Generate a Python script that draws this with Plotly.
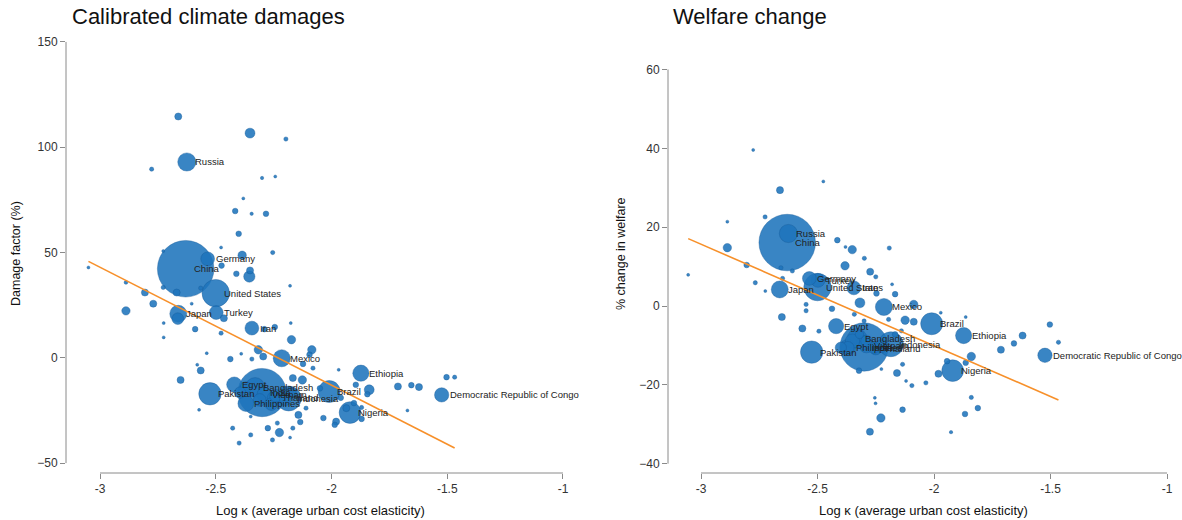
import numpy as np
import plotly.graph_objects as go

# ---- labelled countries (shared log-kappa, population in millions) ----
countries = ["China", "India", "United States", "Indonesia", "Pakistan", "Brazil",
             "Nigeria", "Bangladesh", "Russia", "Mexico", "Japan", "Ethiopia",
             "Philippines", "Egypt", "Vietnam", "Democratic Republic of Congo",
             "Turkey", "Iran", "Germany", "Thailand"]
log_kappa = [-2.63, -2.30, -2.50, -2.185, -2.525, -2.01,
             -1.92, -2.33, -2.625, -2.215, -2.662, -1.873,
             -2.37, -2.42, -2.29, -1.524,
             -2.498, -2.344, -2.535, -2.25]
damage = [42.3, -16.5, 30.7, -19.3, -17.1, -16.0,
          -26.0, -14.0, 93.0, -0.2, 20.9, -7.3,
          -21.7, -12.7, -17.5, -17.6,
          21.5, 14.1, 47.0, -19.0]
welfare = [16.1, -10.4, 4.8, -9.7, -11.7, -4.5,
           -16.4, -8.2, 18.4, -0.25, 4.2, -7.5,
           -10.5, -5.1, -10.0, -12.5,
           6.5, 4.6, 7.0, -10.8]
population = [1400, 1020, 330, 274, 220, 212,
              206, 165, 145, 128, 126, 115,
              110, 102, 97, 90,
              84, 84, 83, 70]

# ---- remaining countries, damages panel ----
other_kappa_dmg = [-2.662, -2.352, -2.197, -2.777, -2.30, -2.243, -2.381, -2.416, -2.345, -2.283,
                   -2.401, -2.477, -2.254, -2.727, -2.386, -2.475, -2.411, -2.355, -2.352, -2.179,
                   -3.05, -2.888, -2.806, -2.727, -2.669, -2.77, -2.604, -2.565, -2.888, -2.664,
                   -2.465, -2.589, -2.477, -2.725, -2.725, -2.29, -2.245, -2.176, -2.173, -2.316,
                   -2.295, -2.085, -2.095, -2.437, -2.39, -2.344, -2.539, -2.123, -2.08, -2.565,
                   -2.58, -2.652, -1.969, -1.895, -1.837, -1.845, -1.713, -1.655, -1.622, -1.503,
                   -1.468, -1.903, -1.87, -1.936, -1.87, -1.672, -1.98, -1.986, -2.035, -2.11,
                   -2.143, -2.135, -2.167, -2.225, -2.275, -2.234, -2.255, -2.179, -2.349, -2.399,
                   -2.427, -2.349, -2.572, -2.167, -2.126, -2.37, -2.24, -2.176, -2.31, -2.26,
                   -2.20, -2.395, -2.05, -1.96]
other_dmg = [114.6, 106.7, 103.9, 89.6, 85.4, 86.1, 75.7, 69.7, 68.4, 68.4,
             58.9, 52.4, 50.0, 50.7, 48.7, 43.8, 39.9, 38.6, 41.5, 34.2,
             42.9, 35.8, 31.0, 33.4, 31.0, 25.7, 25.7, 33.1, 22.3, 18.6,
             18.8, 13.6, 11.7, 16.5, 9.7, 13.6, 14.6, 16.5, 8.6, 3.8,
             0.6, 3.8, 1.5, -0.6, 1.9, -0.6, 2.2, -2.9, -4.9, -6.0,
             -3.3, -10.5, -5.7, -12.8, -15.2, -17.3, -13.6, -13.0, -13.9, -9.2,
             -9.2, -21.5, -23.6, -23.9, -29.0, -25.0, -30.3, -31.8, -28.6, -23.9,
             -27.1, -30.5, -33.4, -35.5, -33.4, -31.0, -39.0, -37.9, -36.6, -40.5,
             -33.4, -27.9, -24.7, -9.6, -10.5, -14.0, -18.0, -16.7, -20.0, -22.0,
             -20.0, -16.5, -14.5, -19.0]
other_pop_dmg = [22, 43, 8, 8, 5, 2.2, 2.2, 14, 5, 14,
                 14, 3.5, 8, 3.5, 31, 14, 14, 56, 22, 3.5,
                 3.5, 6, 22, 8, 22, 22, 3.5, 8, 31, 60,
                 22, 14, 8, 2.2, 3.5, 14, 14, 3.5, 31, 31,
                 22, 31, 14, 14, 3.5, 8, 3.5, 14, 8, 22,
                 3.5, 22, 3.5, 14, 43, 14, 22, 14, 22, 14,
                 8, 14, 8, 22, 14, 3.5, 22, 14, 14, 8,
                 22, 14, 8, 31, 14, 8, 8, 3.5, 8, 8,
                 8, 3.5, 3.5, 22, 31, 56, 70, 56, 70, 70,
                 56, 56, 14, 14]

# ---- remaining countries, welfare panel ----
other_kappa_wel = [-2.776, -2.661, -2.475, -2.725, -2.887, -2.887, -2.415, -2.351, -2.38, -2.299,
                   -2.192, -3.055, -2.804, -2.767, -2.724, -2.657, -2.65, -2.608, -2.653, -2.549,
                   -2.549, -2.565, -2.494, -2.438, -2.382, -2.274, -2.247, -2.25, -2.167, -2.18,
                   -2.318, -2.342, -2.30, -2.087, -2.124, -2.087, -2.14, -2.167, -2.195, -1.971,
                   -1.864, -1.713, -1.657, -1.62, -1.503, -1.466, -1.84, -1.864, -1.944, -1.981,
                   -2.035, -2.095, -2.12, -2.159, -2.135, -2.322, -2.226, -2.254, -2.251, -2.228,
                   -2.135, -2.275, -1.84, -1.812, -1.867, -1.927, -2.35, -2.302, -2.37, -2.227,
                   -2.258, -2.29, -2.32, -2.40]
other_wel = [39.6, 29.4, 31.6, 22.6, 21.4, 14.8, 16.7, 14.3, 15.0, 12.1,
             14.7, 7.9, 10.4, 5.9, 3.8, 9.7, 7.0, 8.9, -2.8, 0.4,
             -1.2, -5.7, -6.4, -0.7, 10.2, 8.7, 3.2, 7.4, 3.0, 5.5,
             0.8, -2.1, -3.8, 0.4, -3.6, -4.0, -6.3, -7.2, -3.4, -1.7,
             -2.8, -11.1, -9.5, -7.5, -4.7, -9.2, -12.8, -14.4, -14.0, -17.2,
             -19.5, -20.2, -19.0, -17.0, -14.8, -16.4, -16.0, -23.3, -24.7, -28.4,
             -26.3, -31.9, -23.2, -25.9, -27.4, -32.0, -8.9, -9.3, -10.6, -10.2,
             -10.6, -8.9, -7.2, -10.6]
other_pop_wel = [3.5, 22, 3.5, 8, 3.5, 31, 14, 31, 3.5, 8,
                 8, 2, 14, 8, 3.5, 8, 8, 8, 22, 8,
                 8, 22, 8, 14, 31, 22, 14, 8, 14, 3.5,
                 43, 8, 8, 31, 31, 22, 8, 14, 8, 3.5,
                 3.5, 22, 14, 22, 14, 8, 31, 14, 14, 22,
                 8, 8, 3.5, 22, 8, 14, 3.5, 3.5, 3.5, 31,
                 14, 22, 8, 14, 14, 5, 90, 90, 70, 70,
                 56, 56, 31, 56]

# ---- fitted lines (intercept, slope) ----
fit_damage = (-125.0, -56.0)
fit_welfare = (-61.6, -25.76)

x_ticks = [-3, -2.5, -2, -1.5, -1]
x_tick_text = ["-3", "-2.5", "-2", "-1.5", "-1"]
y_ticks_dmg = [-50, 0, 50, 100, 150]
y_ticks_wel = [-40, -20, 0, 20, 40, 60]

FONT = "Liberation Sans, Arial, Helvetica, sans-serif"
BUBBLE = "rgba(30,116,188,0.88)"
EDGE = "rgba(22,88,150,0.75)"
ORANGE = "#f7902a"
AXIS = "#8a8a8a"
W, H = 1182, 520
SIZEREF = 0.875

fig = go.Figure()


def add_panel(xa, ya, kx, ky, kp, okx, oky, okp, fit):
    xs = list(okx) + list(kx)
    ys = list(oky) + list(ky)
    ps = list(okp) + list(kp)
    order = np.argsort(ps)[::-1]  # big bubbles first, small on top
    fig.add_trace(go.Scatter(
        x=[xs[i] for i in order], y=[ys[i] for i in order], mode="markers",
        marker=dict(size=[ps[i] for i in order], sizemode="area", sizeref=SIZEREF,
                    sizemin=1.5, color=BUBBLE, opacity=1,
                    line=dict(color=EDGE, width=0.5)),
        xaxis=xa, yaxis=ya, showlegend=False, hoverinfo="skip"))
    lo, hi = min(xs), max(xs)
    a, b = fit
    fig.add_trace(go.Scatter(
        x=[lo, hi], y=[a + b * lo, a + b * hi], mode="lines",
        line=dict(color=ORANGE, width=1.6),
        xaxis=xa, yaxis=ya, showlegend=False, hoverinfo="skip"))
    ref_x = "x" if xa == "x" else "x2"
    ref_y = "y" if ya == "y" else "y2"
    for name, x, y in zip(countries, kx, ky):
        fig.add_annotation(x=x, y=y, xref=ref_x, yref=ref_y, text=name,
                           showarrow=False, xanchor="left", yanchor="middle",
                           xshift=6, font=dict(family=FONT, size=9.5, color="#222"))


add_panel("x", "y", log_kappa, damage, population,
          other_kappa_dmg, other_dmg, other_pop_dmg, fit_damage)
add_panel("x2", "y2", log_kappa, welfare, population,
          other_kappa_wel, other_wel, other_pop_wel, fit_welfare)

ydom = [1 - 473 / H, 1 - 35 / H]
common_x = dict(tickvals=x_ticks, ticktext=x_tick_text, ticks="outside", ticklen=5,
                tickcolor=AXIS, showline=False, showgrid=False, zeroline=False,
                tickfont=dict(family=FONT, size=12, color="#333"))
common_y = dict(ticks="outside", ticklen=5, tickcolor=AXIS, showline=False,
                showgrid=False, zeroline=False,
                tickfont=dict(family=FONT, size=12, color="#333"))

fig.update_layout(
    width=W, height=H, margin=dict(l=0, r=0, t=0, b=0),
    paper_bgcolor="white", plot_bgcolor="white",
    xaxis=dict(domain=[66 / W, 575 / W], range=[-3.147, -0.948], anchor="y", **common_x),
    yaxis=dict(domain=ydom, range=[-54.7, 153.3], anchor="x",
               tickvals=y_ticks_dmg, **common_y),
    xaxis2=dict(domain=[668 / W, 1178 / W], range=[-3.1416, -0.953], anchor="y2", **common_x),
    yaxis2=dict(domain=ydom, range=[-42.37, 68.76], anchor="x2",
                tickvals=y_ticks_wel, **common_y),
)

# axis lines spanning the tick range only
for xr, yr, ylo, yhi in [("x", "y", -50, 150), ("x2", "y2", -40, 60)]:
    fig.add_shape(type="line", xref=xr, yref=yr + " domain", x0=-3, x1=-1, y0=0, y1=0,
                  line=dict(color=AXIS, width=1))
    fig.add_shape(type="line", xref=xr + " domain", yref=yr, x0=0, x1=0, y0=ylo, y1=yhi,
                  line=dict(color=AXIS, width=1))

# panel titles and axis titles
texts = [
    ("Calibrated climate damages", 70 / W, 1 - 17 / H, 0, 22, "left"),
    ("Welfare change", 671 / W, 1 - 17 / H, 0, 22, "left"),
    ("Log \u03ba (average urban cost elasticity)", 320 / W, 1 - 510 / H, 0, 13, "center"),
    ("Log \u03ba (average urban cost elasticity)", 923 / W, 1 - 510 / H, 0, 13, "center"),
    ("Damage factor (%)", 16 / W, 1 - 254 / H, -90, 12.5, "center"),
    ("% change in welfare", 621 / W, 1 - 254 / H, -90, 12.5, "center"),
]
for t, x, y, ang, sz, anc in texts:
    fig.add_annotation(x=x, y=y, xref="paper", yref="paper", text=t, showarrow=False,
                       xanchor=anc, yanchor="middle", textangle=ang,
                       font=dict(family=FONT, size=sz, color="#111"))

fig.write_html("out.html")
